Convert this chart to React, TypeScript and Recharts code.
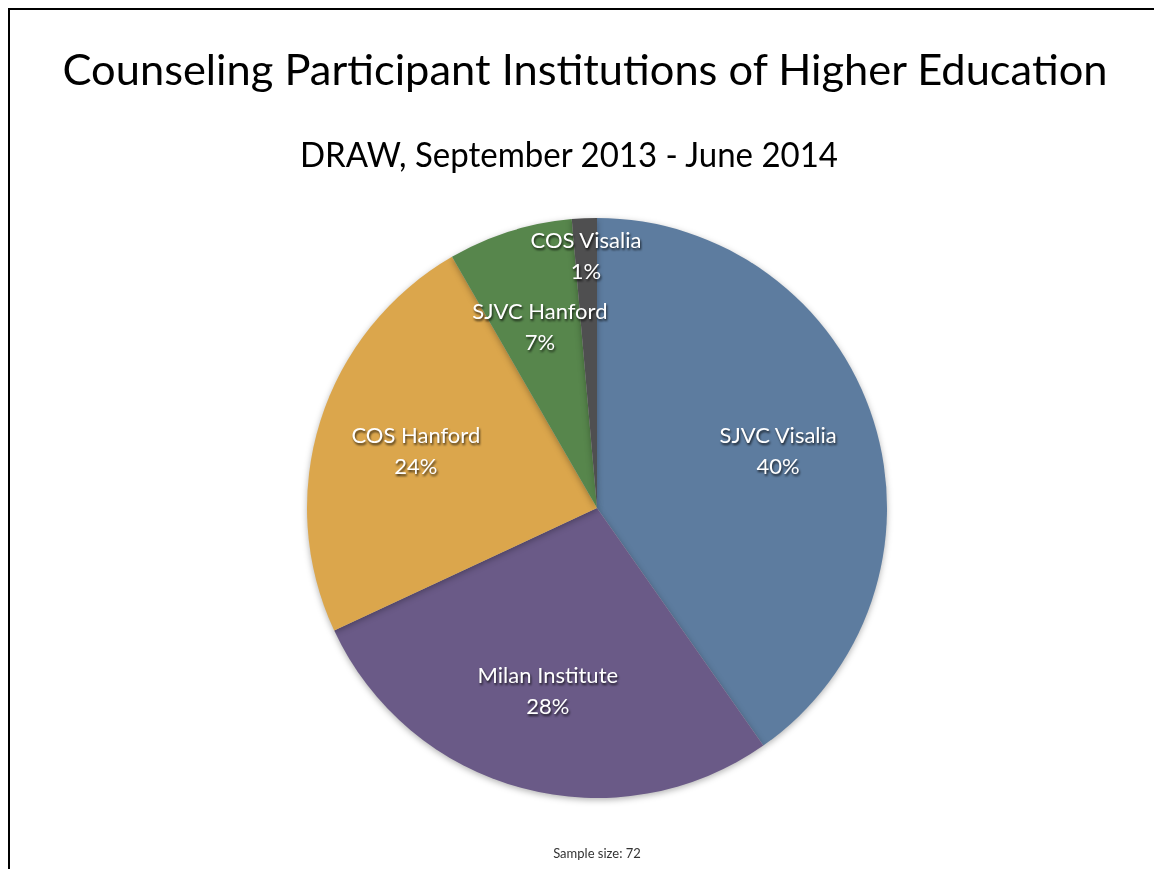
import React from "react";
import { PieChart, Pie, Cell } from "recharts";

const institutions = ["SJVC Visalia", "Milan Institute", "COS Hanford", "SJVC Hanford", "COS Visalia"];
const participants = [29, 20, 17, 5, 1];
const sliceColors = ["#5d7c9f", "#6a5a87", "#dba64c", "#57864c", "#4f4f50"];
const sampleSize = 72;

const data = institutions.map((name, i) => ({ name, value: participants[i] }));

const FONT = "Lato, 'Open Sans', sans-serif";
const RAD = Math.PI / 180;

const renderLabel = (props: any) => {
  const { cx, cy, midAngle, outerRadius, percent, name } = props;
  // tiny slices get their label pushed out toward the rim
  const r = percent < 0.03 ? outerRadius * 0.87 : outerRadius * 0.655;
  const x = cx + r * Math.cos(-midAngle * RAD);
  const y = cy + r * Math.sin(-midAngle * RAD);
  return (
    <text
      x={x}
      y={y}
      textAnchor="middle"
      fill="#ffffff"
      fontFamily={FONT}
      fontSize={22}
      style={{ filter: "drop-shadow(1px 2px 1px rgba(0,0,0,0.7))" }}
    >
      <tspan x={x} y={y - 8}>{name}</tspan>
      <tspan x={x} y={y + 23}>{`${Math.round(percent * 100)}%`}</tspan>
    </text>
  );
};

export default function App() {
  return (
    <div style={{ position: "relative", width: 1138, height: 853, background: "#fff" }}>
      {/* slide frame: only the top and left edges show in the window */}
      <div style={{ position: "fixed", left: 8, top: 8, width: 1146, height: 2, background: "#000" }} />
      <div style={{ position: "fixed", left: 8, top: 8, width: 2, height: 861, background: "#000" }} />

      <PieChart width={1138} height={853} margin={{ top: 0, right: 0, bottom: 0, left: 0 }}>
        <Pie
          data={data}
          dataKey="value"
          nameKey="name"
          cx={589}
          cy={500}
          outerRadius={290}
          startAngle={90}
          endAngle={-270}
          stroke="none"
          label={renderLabel}
          labelLine={false}
          isAnimationActive={false}
        >
          {data.map((d, i) => (
            <Cell
              key={d.name}
              fill={sliceColors[i]}
              style={{ filter: "drop-shadow(0px 2px 3px rgba(0,0,0,0.3))" }}
            />
          ))}
        </Pie>
      </PieChart>

      <svg
        width={1138}
        height={853}
        style={{ position: "absolute", left: 0, top: 0, pointerEvents: "none", overflow: "visible" }}
      >
        <text
          x={577}
          y={77}
          textAnchor="middle"
          fontFamily={FONT}
          fontSize={43}
          fill="#000"
          textLength={1045}
          lengthAdjust="spacingAndGlyphs"
        >
          Counseling Participant Institutions of Higher Education
        </text>
        <text
          x={561}
          y={159}
          textAnchor="middle"
          fontFamily={FONT}
          fontSize={35}
          fill="#000"
          textLength={538}
          lengthAdjust="spacingAndGlyphs"
        >
          DRAW, September 2013 - June 2014
        </text>
        <text x={589} y={850} textAnchor="middle" fontFamily={FONT} fontSize={13} fill="#333">
          {`Sample size:  ${sampleSize}`}
        </text>
      </svg>
    </div>
  );
}
